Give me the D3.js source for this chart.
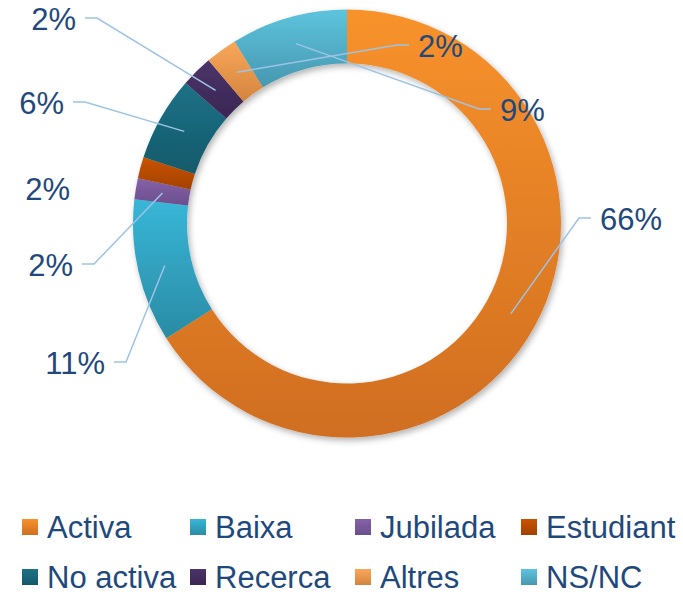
<!DOCTYPE html>
<html>
<head>
<meta charset="utf-8">
<script src="https://cdn.jsdelivr.net/npm/d3@7"></script>
<style>
  body { margin: 0; background: #fff; }
  svg { display: block; font-family: "Liberation Sans", Arial, sans-serif; }
</style>
</head>
<body>
<svg width="683" height="595"></svg>
<script>
// Data
const categories = ["Activa", "Baixa", "Jubilada", "Estudiant", "No activa", "Recerca", "Altres", "NS/NC"];
const values = [66.0, 10.8, 1.6, 1.6, 6.4, 2.4, 2.4, 8.8];
const labels = ["66%", "11%", "2%", "2%", "6%", "2%", "2%", "9%"];

// Colours (top, bottom of each gradient)
const colorTop = ["#F8922C", "#38B6D8", "#8462A8", "#C85400", "#1C7186", "#4B3469", "#F9A85A", "#5DC4DE"];
const colorBottom = ["#D06E20", "#2A8BA4", "#6C4E8E", "#A44100", "#155A6B", "#3A2653", "#D4843E", "#4797AF"];

// Label layout: [x, centre y, anchor, leader?]
const labelLayout = [
  [600, 219, "start", true],
  [105, 363, "end", true],
  [73, 265, "end", true],
  [70, 189, "end", false],
  [64, 103, "end", true],
  [76, 19, "end", true],
  [418, 46, "start", true],
  [500, 110, "start", true]
];

const svg = d3.select("svg");
const cx = 347, cy = 223.5, outerR = 214, innerR = 160;
const textColor = "#1F497D";
const labelSize = 31;

const defs = svg.append("defs");
categories.forEach((c, i) => {
  const g = defs.append("linearGradient")
    .attr("id", "grad" + i)
    .attr("x1", 0).attr("y1", 0).attr("x2", 0).attr("y2", 1);
  g.append("stop").attr("offset", "0%").attr("stop-color", colorTop[i]);
  g.append("stop").attr("offset", "100%").attr("stop-color", colorBottom[i]);
});

const shadow = defs.append("filter").attr("id", "shadow")
  .attr("x", "-10%").attr("y", "-10%").attr("width", "120%").attr("height", "120%");
shadow.append("feDropShadow")
  .attr("dx", 2).attr("dy", 3).attr("stdDeviation", 3)
  .attr("flood-color", "#000").attr("flood-opacity", 0.3);

const pie = d3.pie().sort(null).value(d => d);
const arcs = pie(values);
const arc = d3.arc().innerRadius(innerR).outerRadius(outerR);
const midArc = d3.arc().innerRadius((innerR + outerR) / 2).outerRadius((innerR + outerR) / 2);

const ring = svg.append("g")
  .attr("transform", `translate(${cx},${cy})`)
  .attr("filter", "url(#shadow)");

ring.selectAll("path")
  .data(arcs)
  .join("path")
  .attr("d", arc)
  .attr("fill", (d, i) => `url(#grad${i})`);

// Leader lines
const leaders = svg.append("g");
arcs.forEach((d, i) => {
  const [lx, ly, anchor, hasLine] = labelLayout[i];
  if (!hasLine) return;
  const c = midArc.centroid(d);
  const sx = cx + c[0], sy = cy + c[1];
  const dir = anchor === "start" ? 1 : -1;
  const endX = lx - dir * 9;
  const elbowX = endX - dir * 12;
  leaders.append("polyline")
    .attr("points", `${sx},${sy} ${elbowX},${ly - 1} ${endX},${ly - 1}`)
    .attr("fill", "none")
    .attr("stroke", "#9DC3E6")
    .attr("stroke-width", 1.5);
});

// Data labels
svg.append("g")
  .selectAll("text")
  .data(arcs)
  .join("text")
  .attr("x", (d, i) => labelLayout[i][0])
  .attr("y", (d, i) => labelLayout[i][1] + labelSize * 0.716 / 2)
  .attr("text-anchor", (d, i) => labelLayout[i][2])
  .attr("font-size", labelSize)
  .attr("fill", textColor)
  .text((d, i) => labels[i]);

// Legend
const legendCols = [22, 190, 355, 521];
const legendRows = [527, 577];
const legendSize = 31;
const legend = svg.append("g");
categories.forEach((c, i) => {
  const x = legendCols[i % 4];
  const y = legendRows[Math.floor(i / 4)];
  legend.append("rect")
    .attr("x", x).attr("y", y - 8)
    .attr("width", 16).attr("height", 16)
    .attr("fill", `url(#grad${i})`);
  legend.append("text")
    .attr("x", x + 25)
    .attr("y", y + legendSize * 0.716 / 2)
    .attr("font-size", legendSize)
    .attr("fill", textColor)
    .text(c);
});
</script>
</body>
</html>
